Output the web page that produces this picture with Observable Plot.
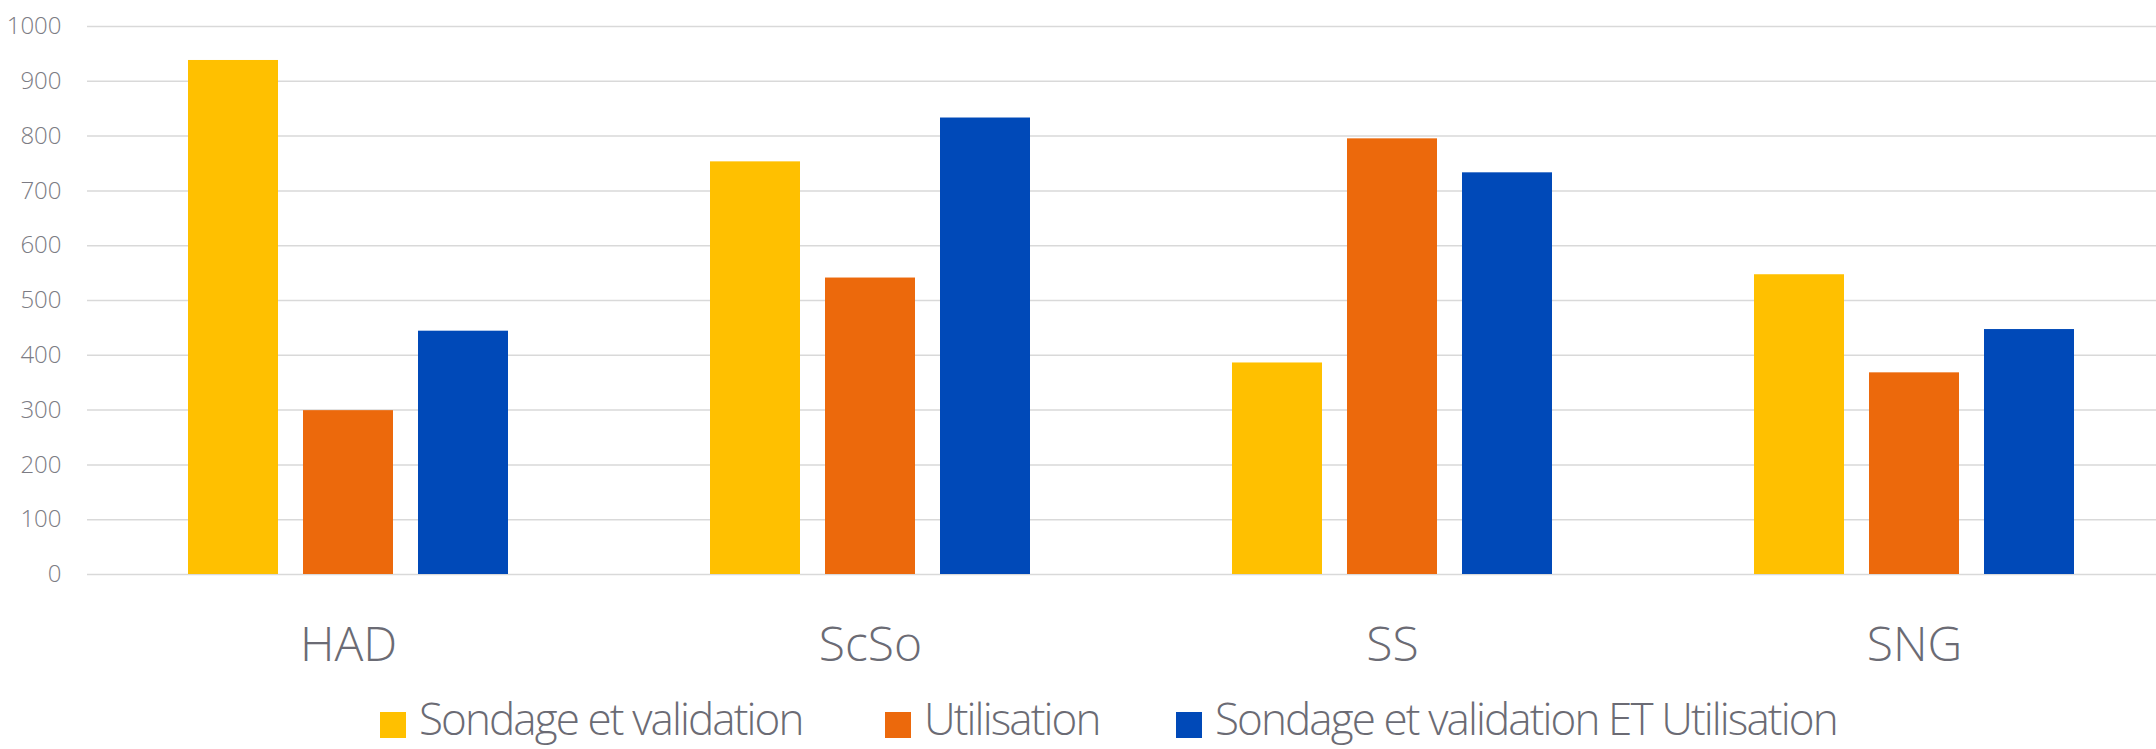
<!DOCTYPE html>
<html>
<head>
<meta charset="utf-8">
<script src="https://cdn.jsdelivr.net/npm/d3@7"></script>
<script src="https://cdn.jsdelivr.net/npm/@observablehq/plot@0.6"></script>
<style>
  html, body { margin: 0; padding: 0; background: #fff; overflow: hidden; }
  #wrap { position: relative; width: 2156px; height: 749px; overflow: hidden; font-family: "Open Sans", sans-serif; font-weight: 300; }
  #chart svg { display: block; max-width: none !important; }
  .legend-item { position: absolute; top: 696px; height: 44px; white-space: nowrap; }
  .legend-swatch { position: absolute; left: 0; top: 16px; width: 26px; height: 26px; }
  .legend-label { position: absolute; left: 39px; top: 0; font-size: 44px; line-height: 44px; letter-spacing: -1.9px; color: #6b6b74; }
</style>
</head>
<body>
<div id="wrap">
  <div id="chart"></div>
  <div id="legend"></div>
</div>
<script>
const categories = ["HAD", "ScSo", "SS", "SNG"];
const series = ["Sondage et validation", "Utilisation", "Sondage et validation ET Utilisation"];
const sondage = [938, 753, 386, 547];
const utilisation = [299, 541, 795, 368];
const sondageEtUtilisation = [444, 833, 733, 447];
const yTicks = [0, 100, 200, 300, 400, 500, 600, 700, 800, 900, 1000];
const colors = ["#FFC000", "#EC690C", "#0049B8"];

const seriesValues = [sondage, utilisation, sondageEtUtilisation];
const rows = [];
categories.forEach((c, i) => {
  series.forEach((s, j) => {
    rows.push({category: c, series: s, value: seriesValues[j][i]});
  });
});

const chart = Plot.plot({
  width: 2176,
  height: 690,
  marginLeft: 86,
  marginRight: 0,
  marginTop: 26,
  marginBottom: 116,
  style: {fontFamily: "'Open Sans', sans-serif", fontWeight: 300, background: "#fff", maxWidth: "none"},
  fx: {domain: categories, padding: 0, axis: null},
  x: {domain: series, paddingInner: 0.2155, paddingOuter: 0.861, axis: null},
  y: {domain: [0, 1000], axis: null},
  color: {domain: series, range: colors},
  marks: [
    Plot.ruleY(yTicks, {stroke: "#d9d9d9", strokeWidth: 1.5}),
    Plot.barY(rows, {fx: "category", x: "series", y: "value", fill: "series"}),
    Plot.axisY({ticks: yTicks, tickSize: 0, tickPadding: 26, fontSize: 24, fill: "#7c7c84", label: null, tickFormat: d => String(d), style: {letterSpacing: "-1.5px"}}),
    Plot.axisFx({anchor: "bottom", tickSize: 0, tickPadding: 52, fontSize: 48, fill: "#6b6b74", label: null, style: {letterSpacing: "-2px"}})
  ]
});
document.getElementById("chart").appendChild(chart);

const legendLefts = [380, 885, 1176];
const legend = document.getElementById("legend");
series.forEach((s, j) => {
  const item = document.createElement("div");
  item.className = "legend-item";
  item.style.left = legendLefts[j] + "px";
  const sw = document.createElement("div");
  sw.className = "legend-swatch";
  sw.style.background = colors[j];
  const lb = document.createElement("span");
  lb.className = "legend-label";
  lb.textContent = s;
  item.appendChild(sw);
  item.appendChild(lb);
  legend.appendChild(item);
});
</script>
</body>
</html>
